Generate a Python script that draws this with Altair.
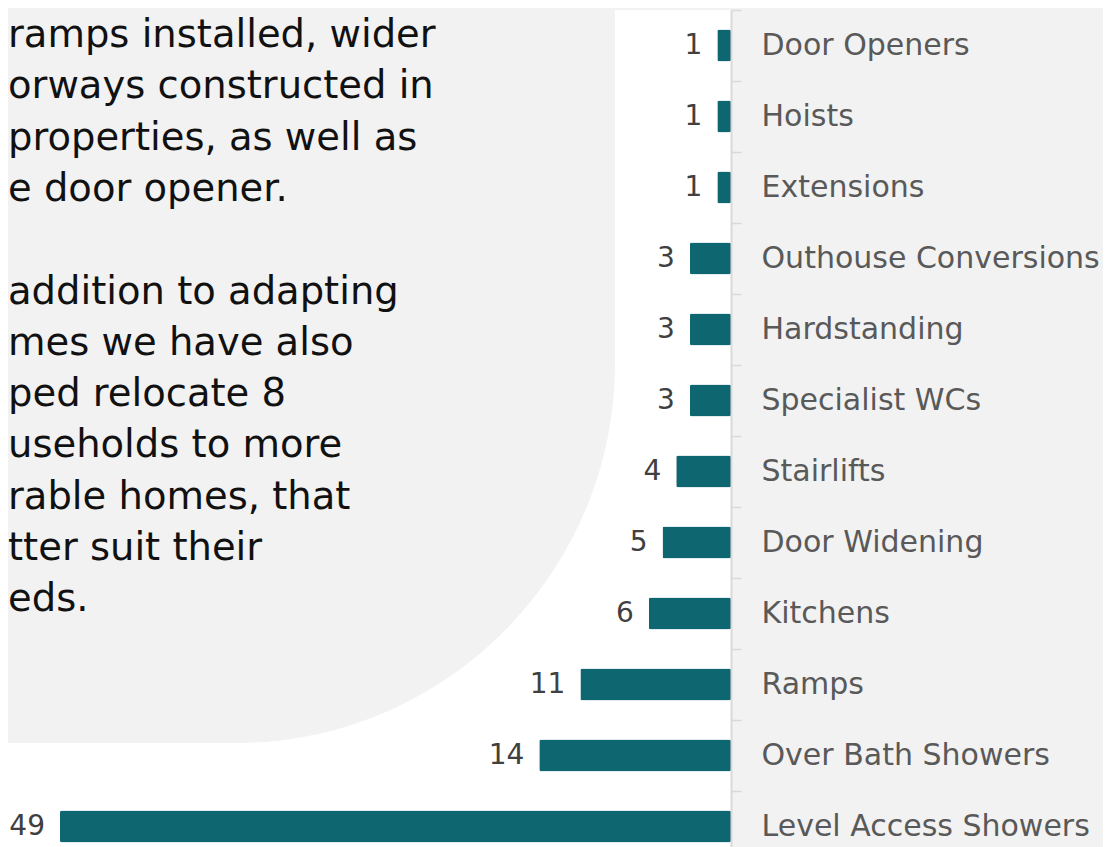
import altair as alt
import pandas as pd

# ---- data -------------------------------------------------------------
CATEGORIES = [
    "Door Openers",
    "Hoists",
    "Extensions",
    "Outhouse Conversions",
    "Hardstanding",
    "Specialist WCs",
    "Stairlifts",
    "Door Widening",
    "Kitchens",
    "Ramps",
    "Over Bath Showers",
    "Level Access Showers",
]
VALUES = [1, 1, 1, 3, 3, 3, 4, 5, 6, 11, 14, 49]

# visible (cropped) lines of the slide text on the left, two paragraphs
PARAGRAPH_1 = [
    "ramps installed, wider",
    "orways constructed in",
    "properties, as well as",
    "e door opener.",
]
PARAGRAPH_2 = [
    "addition to adapting",
    "mes we have also",
    "ped relocate 8",
    "useholds to more",
    "rable homes, that",
    "tter suit their",
    "eds.",
]

FONT = "DejaVu Sans"
BAR_COLOR = "#0e6670"
BG_GREY = "#f2f2f2"
LINE_H = 51.3

df = pd.DataFrame({"category": CATEGORIES, "value": VALUES})
one = pd.DataFrame({"k": [0]})
p1_df = pd.DataFrame({"t": ["\n".join(PARAGRAPH_1)]})
p2_df = pd.DataFrame({"t": ["\n".join(PARAGRAPH_2)]})

PLOT_W = 671
PLOT_H = 837

y_enc = alt.Y(
    "category:N",
    sort=CATEGORIES,
    scale=alt.Scale(range=[0, 852], paddingInner=0, paddingOuter=0),
    axis=alt.Axis(
        orient="right",
        title=None,
        tickBand="extent",
        domainColor="#d9d9d9",
        domainWidth=2,
        tickColor="#d9d9d9",
        tickWidth=1.5,
        tickSize=10,
        labelPadding=20,
        labelFont=FONT,
        labelFontSize=30,
        labelColor="#595959",
        labelLimit=500,
        zindex=1,
    ),
)
x_enc = alt.X(
    "value:Q",
    scale=alt.Scale(domain=[0, 49], reverse=True, nice=False, zero=True),
    axis=None,
)

# decorative slide background shapes
white = alt.Chart(one).mark_rect(color="#ffffff").encode(
    x=alt.value(-100), x2=alt.value(PLOT_W), y=alt.value(0), y2=alt.value(900)
)
blob = alt.Chart(one).mark_rect(color=BG_GREY, cornerRadiusBottomRight=380).encode(
    x=alt.value(-700), x2=alt.value(555), y=alt.value(-700), y2=alt.value(733)
)

text_style = dict(
    align="left",
    baseline="alphabetic",
    lineBreak="\n",
    lineHeight=LINE_H,
    font=FONT,
    fontSize=38.5,
    color="#111111",
)
para1 = alt.Chart(p1_df).mark_text(**text_style).encode(
    x=alt.value(-52), y=alt.value(37), text="t:N"
)
para2 = alt.Chart(p2_df).mark_text(**text_style).encode(
    x=alt.value(-52), y=alt.value(37 + 5 * LINE_H), text="t:N"
)

bars = alt.Chart(df).mark_bar(height=32, color=BAR_COLOR, cornerRadius=2).encode(
    x=x_enc, y=y_enc
)

labels = alt.Chart(df).mark_text(
    align="right",
    baseline="middle",
    dx=-15,
    font=FONT,
    fontSize=28,
    color="#404040",
).encode(x=x_enc, y=y_enc, text="value:Q")

chart = (
    alt.layer(white, blob, para1, para2, bars, labels)
    .properties(
        width=PLOT_W,
        height=PLOT_H,
        padding={"left": 52, "top": 2, "right": 372, "bottom": 0},
        autosize=alt.AutoSizeParams(type="none"),
        background=BG_GREY,
    )
    .configure_view(strokeWidth=0)
)

chart.save("out.html", embed_options={"renderer": "svg", "actions": False})
